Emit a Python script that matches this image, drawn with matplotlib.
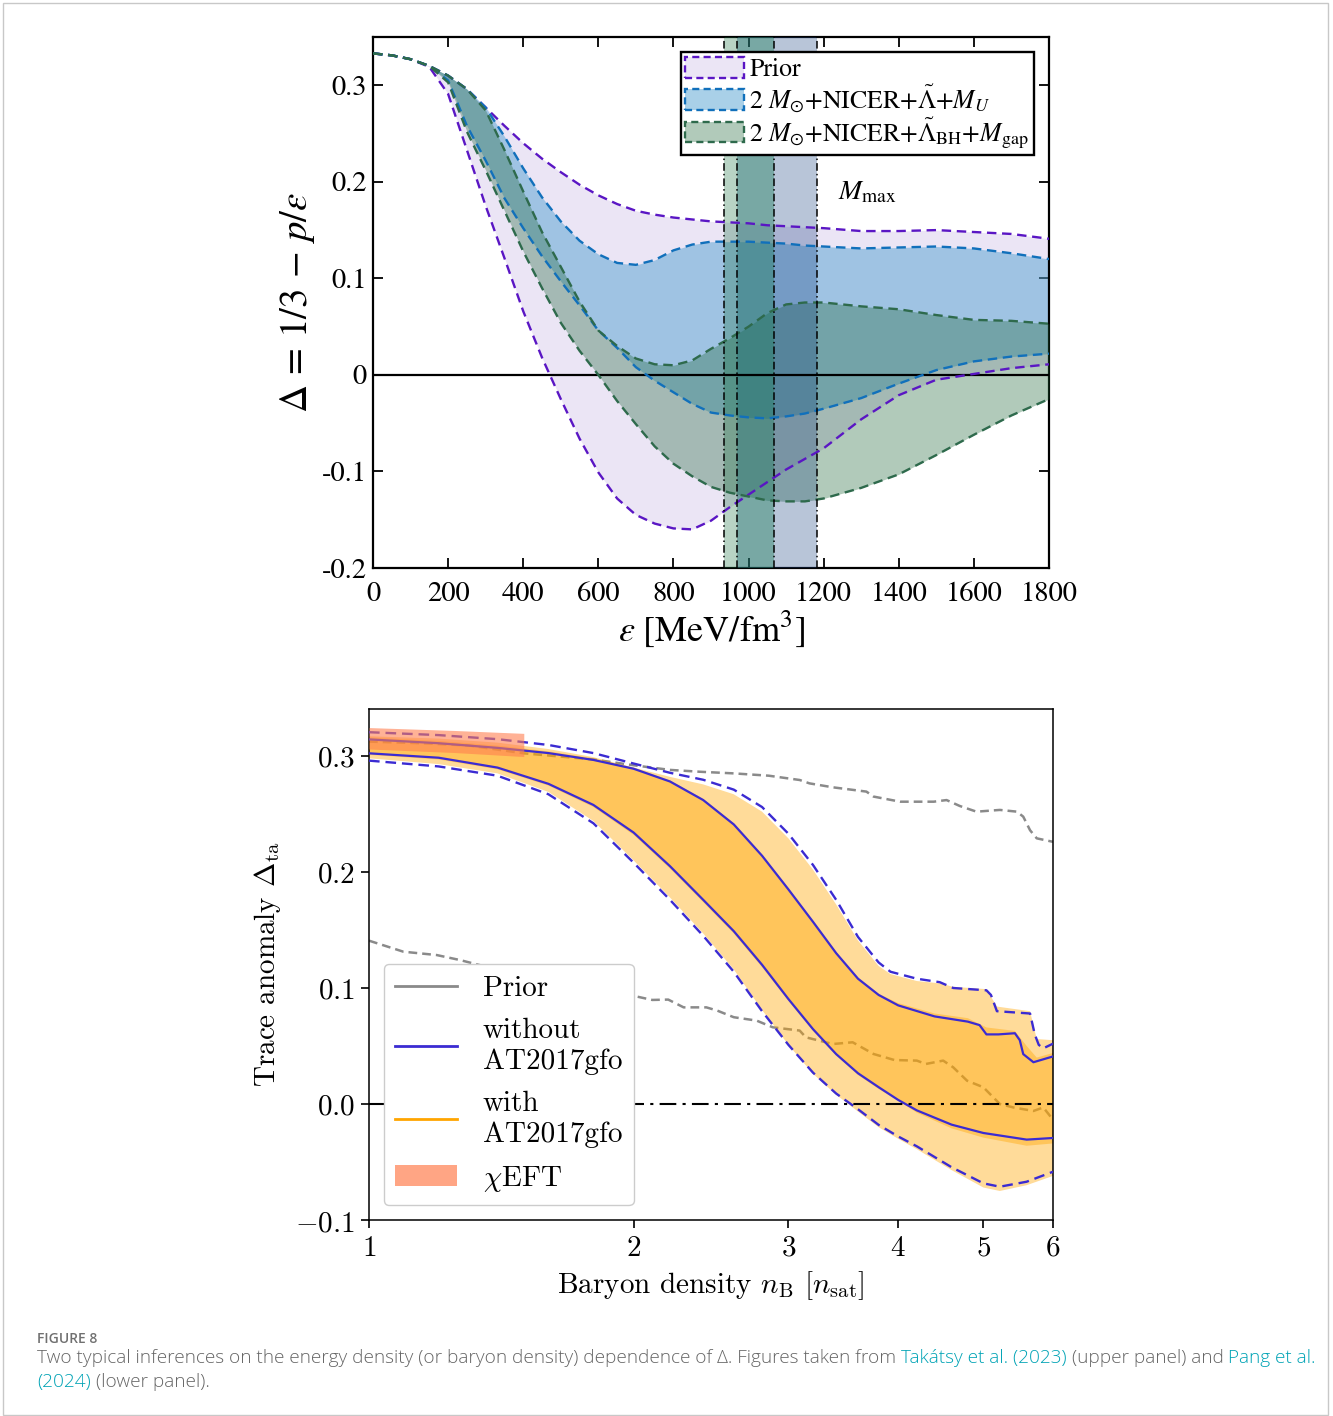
import matplotlib
matplotlib.use("Agg")
import matplotlib.pyplot as plt
from matplotlib.colors import to_rgba
from matplotlib.font_manager import FontProperties
from matplotlib.lines import Line2D
from matplotlib.patches import Patch, Rectangle
from matplotlib.ticker import NullLocator

# ---------------- upper panel: Delta vs energy density ----------------
eps = [0, 50, 100, 150, 200, 250, 300, 350, 400, 450, 500, 550, 600, 650, 700,
       750, 800, 850, 900, 950, 1000, 1050, 1100, 1150, 1200, 1300, 1400, 1500,
       1600, 1700, 1800]

prior_hi = [.333, .331, .327, .320, .310, .296, .277, .258, .240, .224, .210, .197, .186, .177, .170,
            .166, .163, .161, .159, .158, .157, .155, .154, .153, .152, .149, .149, .150,
            .148, .146, .141]
prior_lo = [.333, .331, .327, .319, .291, .233, .175, .121, .066, .018, -.025, -.066, -.101, -.128, -.145,
            -.154, -.159, -.160, -.151, -.137, -.124, -.111, -.098, -.087, -.076, -.046, -.021, -.005,
            .001, .007, .011]
mu_hi = [.333, .331, .327, .320, .310, .296, .277, .247, .214, .184, .159, .139, .125, .116, .114,
         .119, .129, .135, .138, .138, .138, .137, .136, .134, .133, .131, .132, .133,
         .131, .126, .120]
mu_lo = [.333, .331, .327, .320, .305, .258, .222, .183, .152, .123, .097, .072, .046, .028, .008,
         -.006, -.018, -.030, -.039, -.042, -.044, -.045, -.043, -.040, -.035, -.024, -.009, .005,
         .014, .019, .022]
bh_hi = [.333, .331, .327, .320, .310, .296, .274, .233, .190, .148, .112, .076, .046, .030, .017,
         .011, .010, .015, .027, .038, .050, .064, .073, .075, .075, .071, .068, .062,
         .057, .056, .053]
bh_lo = [.333, .331, .327, .320, .303, .252, .212, .170, .128, .090, .054, .025, .000, -.027, -.051,
         -.074, -.092, -.105, -.116, -.122, -.126, -.130, -.131, -.131, -.128, -.117, -.103, -.083,
         -.062, -.042, -.025]

# M_max ranges (energy density at maximum mass)
mmax_bh = [934, 1067]
mmax_mu = [969, 1182]

top_xticks = [0, 200, 400, 600, 800, 1000, 1200, 1400, 1600, 1800]
top_yticks = [-0.2, -0.1, 0.0, 0.1, 0.2, 0.3]
top_ylabels = ["-0.2", "-0.1", "0", "0.1", "0.2", "0.3"]
top_legend = ["Prior",
              r"2 $M_{\odot}$+NICER+$\tilde{\Lambda}$+$M_U$",
              r"2 $M_{\odot}$+NICER+$\tilde{\Lambda}_{\rm BH}$+$M_{\rm gap}$"]

# ---------------- lower panel: trace anomaly vs baryon density ----------------
wo_hi90_n = [1.0, 1.2, 1.4, 1.6, 1.8, 2.0, 2.2, 2.4, 2.6, 2.8, 3.0, 3.2, 3.4, 3.6, 3.8,
             3.92, 4.2, 4.46, 4.62, 5.04, 5.1, 5.18, 5.65, 5.72, 5.78, 5.85, 6.0]
wo_hi90 = [.3205, .318, .3145, .3095, .3025, .2935, .2855, .2795, .2710, .2560, .2330, .2060, .1760, .1440, .1220,
           .1140, .108, .105, .100, .098, .094, .080, .078, .060, .051, .048, .052]
wo_hi68_n = [1.0, 1.2, 1.4, 1.6, 1.8, 2.0, 2.2, 2.4, 2.6, 2.8, 3.0, 3.2, 3.4, 3.6, 3.8,
             4.0, 4.4, 4.8, 4.95, 5.04, 5.2, 5.43, 5.5, 5.55, 5.7, 6.0]
wo_hi68 = [.3143, .311, .307, .3025, .2966, .289, .278, .262, .241, .214, .185, .157, .130, .108, .094,
           .085, .0755, .071, .068, .060, .060, .061, .055, .043, .036, .041]
wo_lo68_n = [1.0, 1.2, 1.4, 1.6, 1.8, 2.0, 2.2, 2.4, 2.6, 2.8, 3.0, 3.2, 3.4, 3.6, 3.8,
             4.0, 4.2, 4.6, 5.0, 5.6, 6.0]
wo_lo68 = [.3023, .2985, .2900, .2760, .2578, .2340, .2050, .1760, .1490, .1200, .0905, .0645, .0430, .0265, .0145,
           .0035, -.0055, -.0178, -.025, -.0307, -.0293]
wo_lo90_n = [1.0, 1.2, 1.4, 1.6, 1.8, 2.0, 2.2, 2.4, 2.6, 2.8, 3.0, 3.2, 3.4, 3.6, 3.8,
             4.0, 4.2, 4.6, 5.0, 5.22, 5.6, 6.0]
wo_lo90 = [.2960, .2910, .2830, .2670, .2420, .2080, .1760, .1450, .1140, .0800, .0510, .0270, .0090, -.0045, -.0180,
           -.0280, -.0365, -.0545, -.0684, -.0713, -.067, -.0584]

w_hi90_n = [1.0, 1.2, 1.4, 1.6, 1.8, 2.0, 2.2, 2.4, 2.6, 2.8, 3.0, 3.2, 3.4, 3.6, 3.8,
            3.92, 4.2, 4.46, 4.62, 5.04, 5.18, 5.65, 5.75, 6.0]
w_hi90 = [.317, .315, .3115, .306, .299, .290, .282, .2755, .267, .252, .229, .202, .172, .141, .119,
          .112, .106, .104, .101, .099, .084, .080, .056, .055]
w_lo90_n = [1.0, 1.2, 1.4, 1.6, 1.8, 2.0, 2.2, 2.4, 2.6, 2.8, 3.0, 3.2, 3.4, 3.6, 3.8,
            4.0, 4.2, 4.6, 5.0, 5.22, 5.6, 6.0]
w_lo90 = [.298, .293, .285, .269, .244, .210, .178, .147, .116, .081, .051, .026, .008, -.0065, -.020,
          -.030, -.039, -.057, -.072, -.075, -.070, -.062]
w_hi68_n = [1.0, 1.2, 1.4, 1.6, 1.8, 2.0, 2.2, 2.4, 2.6, 2.8, 3.0, 3.2, 3.4, 3.6, 3.8,
            4.0, 4.4, 4.8, 5.04, 5.43, 5.6, 5.75, 6.0]
w_hi68 = [.316, .313, .309, .304, .298, .290, .279, .263, .242, .215, .186, .158, .131, .109, .095,
          .087, .078, .074, .066, .063, .050, .040, .044]
w_lo68_n = [1.0, 1.2, 1.4, 1.6, 1.8, 2.0, 2.2, 2.4, 2.6, 2.8, 3.0, 3.2, 3.4, 3.6, 3.8,
            4.0, 4.2, 4.6, 5.0, 5.6, 6.0]
w_lo68 = [.301, .297, .2885, .2745, .256, .232, .203, .174, .147, .118, .089, .063, .042, .025, .013,
          .003, -.0075, -.021, -.029, -.036, -.034]

pr_hi_n = [1.0, 1.15, 1.3, 1.5, 1.8, 2.0, 2.2, 2.38, 2.6, 2.85, 3.09, 3.17, 3.37, 3.68, 3.75,
           4.02, 4.39, 4.54, 4.70, 4.91, 5.22, 5.46, 5.55, 5.65, 5.75, 6.0]
pr_hi = [.3124, .311, .309, .3023, .297, .292, .288, .2864, .285, .283, .2793, .2764, .273, .2693, .265,
         .2606, .2606, .262, .2569, .252, .2535, .252, .2477, .236, .229, .226]
pr_lo_n = [1.0, 1.094, 1.194, 1.269, 1.5, 1.8, 2.02, 2.1, 2.19, 2.28, 2.42, 2.49, 2.60, 2.76, 2.88,
           3.09, 3.14, 3.37, 3.55, 3.75, 3.96, 4.20, 4.30, 4.50, 4.62, 4.79, 5.0, 5.22, 5.41, 5.70,
           5.85, 6.0]
pr_lo = [.1408, .1313, .1284, .1241, .110, .098, .0925, .0897, .090, .0833, .0833, .0805, .0748, .0719, .0661,
         .0633, .0575, .0517, .0532, .0431, .0379, .0374, .0345, .0374, .0316, .0201, .0144, .0, -.003, -.006,
         -.003, -.0135]

eft_n = [1.0, 1.25, 1.5]
eft_hi = [.3245, .322, .3195]
eft_lo = [.306, .303, .2995]

bot_xticks = [1, 2, 3, 4, 5, 6]
bot_yticks = [-0.1, 0.0, 0.1, 0.2, 0.3]
bot_legend = ["Prior", "without\nAT2017gfo", "with\nAT2017gfo", r"$\chi$EFT"]

caption_head = "FIGURE 8"
caption_1 = [("Two typical inferences on the energy density (or baryon density) dependence of \u0394. Figures taken from", "txt"),
             ("Tak\u00e1tsy et al. (2023)", "link"),
             ("(upper panel) and", "txt"),
             ("Pang et al.", "link")]
caption_2 = [("(2024)", "link"), ("(lower panel).", "txt")]

W, H = 1333, 1416
fig = plt.figure(figsize=(W / 100, H / 100), dpi=100)
fig.patch.set_facecolor("white")

# ---------------- upper panel ----------------
ax1 = fig.add_axes([373 / W, 1 - 568 / H, 676 / W, 531 / H])
stix = dict(family="STIXGeneral", math_fontfamily="stix")

c_prior, f_prior = "#5a16c4", to_rgba("#6a3db8", 0.13)
c_mu, f_mu = "#1170bb", to_rgba("#54a2d2", 0.5)
c_bh, f_bh = "#2e6a4c", to_rgba("#21683b", 0.35)
dash = (0, (4, 2.4))

ax1.fill_between(eps, prior_lo, prior_hi, color=f_prior, lw=0, zorder=1)
ax1.fill_between(eps, mu_lo, mu_hi, color=f_mu, lw=0, zorder=2)
ax1.fill_between(eps, bh_lo, bh_hi, color=f_bh, lw=0, zorder=3)

lo_edge = max(mmax_bh[0], mmax_mu[0])
hi_edge = min(mmax_bh[1], mmax_mu[1])
ax1.axvspan(mmax_bh[0], lo_edge, color="#16703e", alpha=0.3, lw=0, zorder=4)
ax1.axvspan(lo_edge, hi_edge, color="#1f6e68", alpha=0.6, lw=0, zorder=4)
ax1.axvspan(hi_edge, mmax_mu[1], color="#163f80", alpha=0.3, lw=0, zorder=4)

ax1.axhline(0, color="k", lw=1.6, zorder=5)
for lo, hi, c in [(prior_lo, prior_hi, c_prior), (mu_lo, mu_hi, c_mu), (bh_lo, bh_hi, c_bh)]:
    ax1.plot(eps, lo, color=c, ls=dash, lw=1.7, zorder=6)
    ax1.plot(eps, hi, color=c, ls=dash, lw=1.7, zorder=6)
for e in mmax_bh + mmax_mu:
    ax1.axvline(e, color="k", ls=(0, (5, 2, 1, 2)), lw=1.1, zorder=7)

ax1.text(1237, 0.189, r"$M_{\rm max}$", fontsize=20, va="center", **stix)

ax1.set_xlim(0, 1800)
ax1.set_ylim(-0.2, 0.35)
ax1.set_xticks(top_xticks)
ax1.set_xticklabels([str(t) for t in top_xticks], fontsize=20.5, **stix)
ax1.set_yticks(top_yticks)
ax1.set_yticklabels(top_ylabels, fontsize=20.5, **stix)
ax1.tick_params(direction="in", top=True, right=True, length=7, width=1.3)
ax1.tick_params(axis="x", pad=10)
ax1.tick_params(axis="y", pad=4.5)
for s in ax1.spines.values():
    s.set_linewidth(1.6)
ax1.set_xlabel(r"$\varepsilon\ [\mathrm{MeV/fm^3}]$", fontsize=26, labelpad=1, **stix)
ax1.set_ylabel(r"$\Delta\,=\,1/3\,-\,p/\varepsilon$", fontsize=28, labelpad=3, **stix)

h_top = [Patch(facecolor=f, edgecolor=c, ls=(0, (3, 1.8)), lw=1.7)
         for f, c in [(f_prior, c_prior), (f_mu, c_mu), (f_bh, c_bh)]]
leg1 = ax1.legend(h_top, top_legend, loc="upper right", fancybox=False, framealpha=1,
                  edgecolor="k", prop=FontProperties(family="STIXGeneral", size=18.5, math_fontfamily="stix"),
                  handlelength=2.3, handleheight=0.85, handletextpad=0.2, labelspacing=0.0,
                  borderpad=0.18, borderaxespad=0.6)
leg1.get_frame().set_linewidth(1.7)
leg1.set_zorder(10)

# ---------------- lower panel ----------------
ax2 = fig.add_axes([369 / W, 1 - 1220 / H, 684 / W, 511 / H])
cm = dict(family="cmr10", math_fontfamily="cm")
c_wo = "#3b2bd2"
c_prior2 = "#8a8a8a"
c_eft = "#ff7f50"

ax2.plot(pr_hi_n, pr_hi, color=c_prior2, ls=(0, (3.5, 2)), lw=1.8, zorder=1)
ax2.plot(pr_lo_n, pr_lo, color=c_prior2, ls=(0, (3.5, 2)), lw=1.8, zorder=1)

ax2.fill(w_hi90_n + w_lo90_n[::-1], w_hi90 + w_lo90[::-1], color="orange", alpha=0.4, lw=0, zorder=2)
ax2.fill(w_hi68_n + w_lo68_n[::-1], w_hi68 + w_lo68[::-1], color="orange", alpha=0.4, lw=0, zorder=2)

ax2.plot(wo_hi90_n, wo_hi90, color=c_wo, ls=(0, (4.5, 2.5)), lw=1.7, zorder=3)
ax2.plot(wo_lo90_n, wo_lo90, color=c_wo, ls=(0, (4.5, 2.5)), lw=1.7, zorder=3)
ax2.plot(wo_hi68_n, wo_hi68, color=c_wo, lw=1.6, zorder=3)
ax2.plot(wo_lo68_n, wo_lo68, color=c_wo, lw=1.6, zorder=3)

ax2.fill_between(eft_n, eft_lo, eft_hi, color=c_eft, alpha=0.6, lw=0, zorder=4)
ax2.axhline(0, color="k", ls=(0, (8, 3, 1.5, 3)), lw=1.5, zorder=5)

ax2.set_xscale("log")
ax2.set_xlim(1, 6)
ax2.set_ylim(-0.1, 0.3405)
ax2.set_xticks(bot_xticks)
ax2.xaxis.set_minor_locator(NullLocator())
ax2.set_xticklabels([rf"${t}$" for t in bot_xticks], fontsize=21, math_fontfamily="cm")
ax2.set_yticks(bot_yticks)
ax2.set_yticklabels([rf"${t:.1f}$" for t in bot_yticks], fontsize=21, math_fontfamily="cm")
ax2.tick_params(length=6, width=1.2, pad=4)
for s in ax2.spines.values():
    s.set_linewidth(1.1)
ax2.set_xlabel(r"Baryon density $n_{\rm B}$ [$n_{\rm sat}$]", fontsize=21, labelpad=5, **cm)
ax2.set_ylabel(r"Trace anomaly $\Delta_{\rm ta}$", fontsize=21, labelpad=9, **cm)

h_bot = [Line2D([], [], color=c_prior2, lw=2),
         Line2D([], [], color=c_wo, lw=2),
         Line2D([], [], color="orange", lw=2),
         Patch(facecolor=to_rgba(c_eft, 0.7), lw=0)]
leg2 = ax2.legend(h_bot, bot_legend, loc="lower left", framealpha=1,
                  prop=FontProperties(family="cmr10", size=21, math_fontfamily="cm"),
                  handlelength=2.1, handletextpad=0.9, labelspacing=0.55)
leg2.set_zorder(10)

# ---------------- caption ----------------
txt_col, link_col = "#666666", "#00a3b5"
cap_font = dict(family="Open Sans", fontweight="light")
renderer = fig.canvas.get_renderer()


def measure(s, size):
    t = fig.text(0, 0, s, fontsize=size, **cap_font)
    w = t.get_window_extent(renderer).width
    t.remove()
    return w


def caption_line(x_px, y_px, parts, size):
    gap = measure("x x", size) - measure("xx", size)
    x = x_px
    for s, kind in parts:
        t = fig.text(x / W, 1 - y_px / H, s, fontsize=size, va="baseline",
                     color=link_col if kind == "link" else txt_col, **cap_font)
        x += t.get_window_extent(renderer).width + gap
    return x


gap0 = measure("x x", 12) - measure("xx", 12)
full = sum(measure(s, 12) for s, _ in caption_1) + gap0 * (len(caption_1) - 1)
cap_size = 12 * 1278 / full

fig.text(37 / W, 1 - 1343 / H, caption_head, fontsize=10, fontweight="semibold",
         color="#707070", va="baseline", family="Open Sans")
caption_line(37, 1363, caption_1, cap_size)
caption_line(37, 1387, caption_2, cap_size)

fig.add_artist(Rectangle((3 / W, 1 / H), 1325 / W, 1412 / H, transform=fig.transFigure,
                         fill=False, edgecolor="#c8c8c8", lw=1))

fig.savefig("out.png", dpi=100)
